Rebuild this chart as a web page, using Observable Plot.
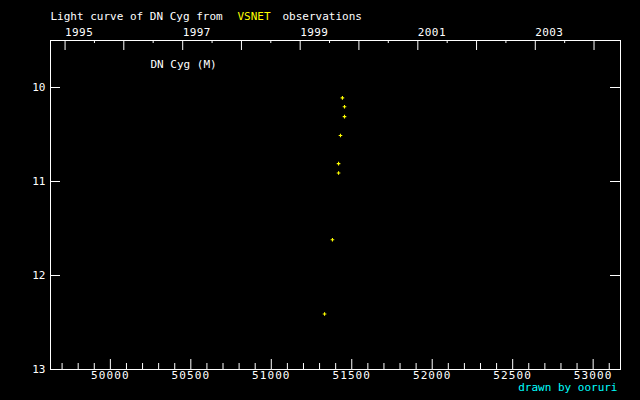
<!DOCTYPE html>
<html><head><meta charset="utf-8">
<script src="https://cdn.jsdelivr.net/npm/d3@7"></script>
<script src="https://cdn.jsdelivr.net/npm/@observablehq/plot@0.6"></script>
<style>
html,body{margin:0;padding:0;background:#000;}
.wide text{letter-spacing:1.1px;}
.yr text{letter-spacing:0.4px;}
</style>
</head><body><div id="chart"></div>
<script>
// Observations (JD - 2400000) and visual magnitudes of DN Cyg
const obsJD  = [51331, 51380, 51418, 51418, 51430, 51455, 51455, 51442];
const obsMag = [12.41, 11.62, 10.91, 10.81, 10.51, 10.31, 10.205, 10.11];

// Axis ticks
const magTicks = [10, 11, 12, 13];
const jdLabelTicks = [50000, 50500, 51000, 51500, 52000, 52500, 53000];
const jdMinorTicks = d3.range(49700, 53200, 100).filter(d => d % 500 !== 0);
const yearTicksJD = [49718.5, 50083.5, 50449.5, 50814.5, 51179.5, 51544.5, 51910.5, 52275.5, 52640.5, 53005.5];
const yearHalfJD  = [49901, 50266, 50632, 50997, 51362, 51727, 52093, 52458, 52823];
const yearLabels  = ["1995", "1997", "1999", "2001", "2003"];
const yearLabelJD = [49718.5, 50449.5, 51179.5, 51910.5, 52640.5];

const W = 640, H = 400, mL = 50, mR = 20, mT = 40, mB = 31;
const iW = W - mL - mR, iH = H - mT - mB;
const obs = obsJD.map((jd, i) => ({jd, mag: obsMag[i]}));

const chart = Plot.plot({
  width: W, height: H,
  marginLeft: mL, marginRight: mR, marginTop: mT, marginBottom: mB,
  style: {background: "#000", color: "#fff", fontFamily: "'DejaVu Sans Mono', monospace", fontSize: "11px"},
  x: {domain: [49628, 53170], axis: null},
  y: {domain: [9.5, 13], reverse: true, axis: null},
  marks: [
    Plot.frame({stroke: "#fff"}),
    Plot.tickX(jdLabelTicks, {x: d => d, stroke: "#fff", insetTop: iH - 10}),
    Plot.tickX(jdMinorTicks, {x: d => d, stroke: "#fff", insetTop: iH - 6}),
    Plot.tickX(yearTicksJD, {x: d => d, stroke: "#fff", insetBottom: iH - 10}),
    Plot.tickX(yearHalfJD, {x: d => d, stroke: "#fff", insetBottom: iH - 3}),
    Plot.tickY(magTicks, {y: d => d, stroke: "#fff", insetRight: iW - 10}),
    Plot.tickY(magTicks, {y: d => d, stroke: "#fff", insetLeft: iW - 10}),
    Plot.text(jdLabelTicks, {x: d => d, text: d => String(d), frameAnchor: "bottom", dy: 9, fill: "#fff", className: "wide"}),
    Plot.text(yearLabelJD, {x: d => d, text: (d, i) => yearLabels[i], frameAnchor: "top", dy: -12, textAnchor: "start", fill: "#fff", className: "yr"}),
    Plot.text(magTicks, {y: d => d, text: d => String(d), frameAnchor: "left", dx: -5, textAnchor: "end", fill: "#fff"}),
    Plot.text(["Light curve of DN Cyg from"], {text: d => d, frameAnchor: "top-left", dy: -28, textAnchor: "start", fill: "#fff"}),
    Plot.text(["VSNET"], {text: d => d, frameAnchor: "top-left", dx: 187, dy: -28, textAnchor: "start", fill: "#ffff00"}),
    Plot.text(["observations"], {text: d => d, frameAnchor: "top-left", dx: 232, dy: -28, textAnchor: "start", fill: "#fff"}),
    Plot.text(["DN Cyg (M)"], {text: d => d, frameAnchor: "top-left", dx: 100, dy: 20, textAnchor: "start", fill: "#fff"}),
    Plot.text(["drawn by ooruri"], {text: d => d, frameAnchor: "bottom-right", dx: -3, dy: 21, textAnchor: "end", fill: "#00ffff"}),
    Plot.dot(obs, {x: "jd", y: "mag", symbol: "plus", r: 1.25, stroke: "#ffff00", strokeWidth: 1.1})
  ]
});
document.getElementById("chart").appendChild(chart);
</script>
</body></html>
